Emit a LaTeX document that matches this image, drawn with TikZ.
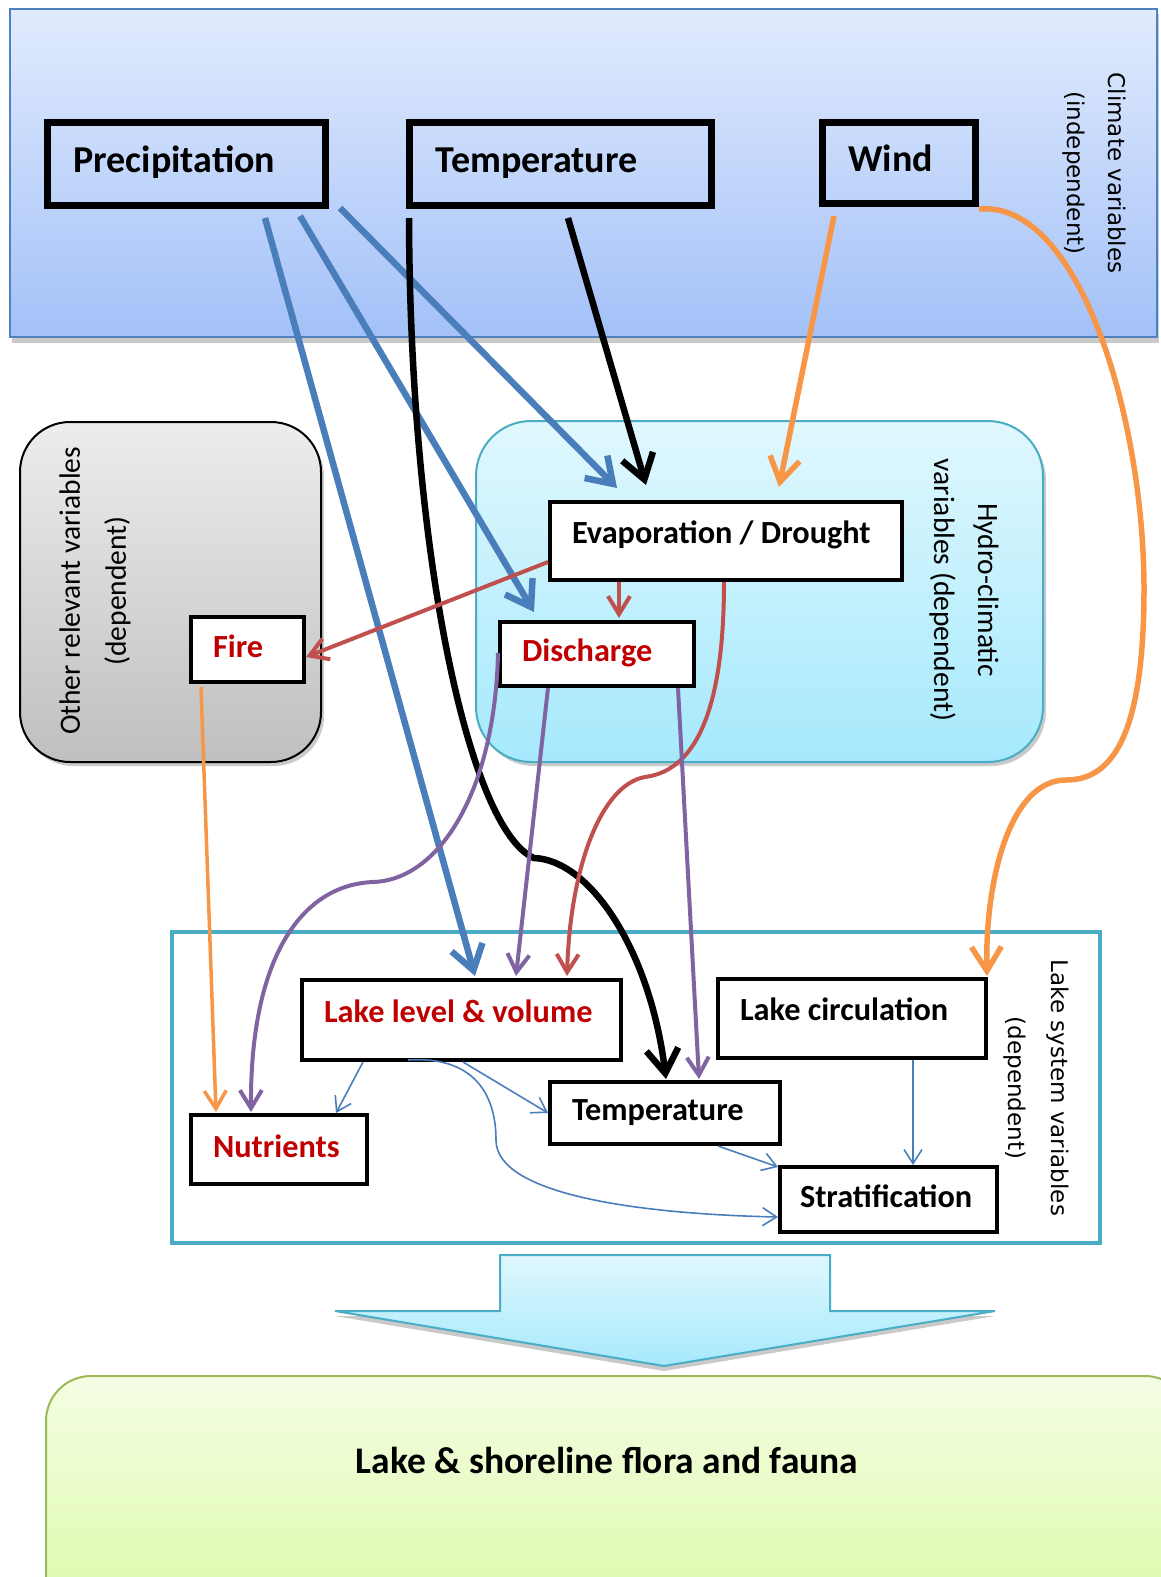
\documentclass[tikz,border=0pt]{standalone}
\usepackage{fontspec}
\setmainfont{Carlito}
\newfontfamily\dvs{DejaVu Sans}
\usetikzlibrary{arrows.meta,calc}
\definecolor{topA}{HTML}{E1EBFD}
\definecolor{topB}{HTML}{A3C1F8}
\definecolor{topLine}{HTML}{4F81BD}
\definecolor{hyA}{HTML}{E0F8FE}
\definecolor{hyB}{HTML}{A6E9FC}
\definecolor{hyLine}{HTML}{4BACC6}
\definecolor{grA}{HTML}{EDEDED}
\definecolor{grB}{HTML}{BFBFBF}
\definecolor{gnA}{HTML}{F4FDE4}
\definecolor{gnB}{HTML}{DAFAA2}
\definecolor{gnLine}{HTML}{9BBB59}
\definecolor{cBlue}{HTML}{4A7EBB}
\definecolor{cOrange}{HTML}{F79646}
\definecolor{cRed}{HTML}{C0504D}
\definecolor{cPurple}{HTML}{8064A2}
\definecolor{txtRed}{HTML}{C00000}
\newcommand\bxt[2]{\makebox[#1][l]{\strut#2}}
\newcommand\bxr[2]{\raisebox{22pt}{\makebox[#1][l]{\strut#2}}}
\begin{document}
\begin{tikzpicture}[x=1pt,y=-1pt,
  hb/.style={draw, line width=4pt, fill=white, anchor=north west, inner xsep=22pt, inner ysep=0pt,
    font=\fontsize{32.3}{38}\selectfont\bfseries},
  tb/.style={hb, line width=7pt, fill=none, inner xsep=26pt, font=\fontsize{38}{44}\selectfont\bfseries},
  shd/.style={fill=black!35, opacity=0.6},
  thk/.style={line width=6.5pt, -{Straight Barb[length=24pt,width=32pt]}},
  mdo/.style={line width=5.5pt, -{Straight Barb[length=24pt,width=30pt]}},
  med/.style={line width=4pt, -{Straight Barb[length=18pt,width=22pt]}},
  thn/.style={line width=1.6pt, -{Straight Barb[length=14pt,width=18pt]}},
  lab/.style={align=center}
]
\useasboundingbox (0,0) rectangle (1161,1577);
% containers
\fill[shd] (12,14) rectangle (1159,343);
\draw[topLine, line width=2pt, top color=topA, bottom color=topB] (10,9) rectangle (1157,337);
\fill[shd, rounded corners=55pt] (479,425) rectangle (1046,766);
\draw[hyLine, line width=2pt, top color=hyA, bottom color=hyB, rounded corners=55pt] (476,421) rectangle (1043,762);
\fill[shd, rounded corners=50pt] (23,426) rectangle (324,766);
\draw[black, line width=2pt, top color=grA, bottom color=grB, rounded corners=50pt] (20,422) rectangle (321,762);
\draw[hyLine, line width=4pt, fill=white] (172,932) rectangle (1100,1243);
\fill[shd] (500,1260) -- (830,1260) -- (830,1316) -- (995,1316) -- (664,1371) -- (335,1316) -- (500,1316) -- cycle;
\draw[hyLine, line width=2pt, top color=hyA, bottom color=hyB] (500,1255) -- (830,1255) -- (830,1311) -- (995,1311) -- (664,1366) -- (335,1311) -- (500,1311) -- cycle;
\fill[shd, rounded corners=45pt] (49,1380) rectangle (1193,1644);
\draw[gnLine, line width=2pt, top color=gnA, bottom color=gnB, rounded corners=45pt] (46,1376) rectangle (1190,1640);
% labels
\node[lab, rotate=-90, font=\dvs\fontsize{23}{41}\selectfont] (climlab) at (1094,173) {Climate variables\\(independent)};
\node[lab, rotate=-90, font=\fontsize{29.5}{44}\selectfont] (hylab) at (964,590) {Hydro-climatic\\variables (dependent)};
\node[lab, rotate=90, font=\fontsize{29.5}{46}\selectfont] (othlab) at (95,591) {Other relevant variables\\(dependent)};
\node[lab, rotate=-90, font=\dvs\fontsize{23}{43}\selectfont] (lklab) at (1036,1088) {Lake system variables\\(dependent)};
\node[font=\fontsize{37.5}{44}\selectfont\bfseries] (flora) at (607,1460) {Lake \& shoreline flora and fauna};
% boxes
\node[tb, minimum height=83pt] (prec) at (44,119) {\bxt{226pt}{Precipitation}};
\node[tb, minimum height=83pt] (tempT) at (406,119) {\bxt{250pt}{Temperature}};
\node[tb, minimum height=81pt] (wind) at (819,119) {\bxt{101pt}{Wind}};
\node[hb, minimum height=78pt] (evap) at (548,500) {\bxr{308pt}{Evaporation / Drought}};
\node[hb, minimum height=64pt, text=txtRed] (disch) at (498,620) {\bxt{150pt}{Discharge}};
\node[hb, minimum height=65pt, text=txtRed] (fire) at (189,615) {\bxt{69pt}{Fire}};
\node[hb, minimum height=80pt, text=txtRed] (level) at (300,978) {\bxr{275pt}{Lake level \& volume}};
\node[hb, minimum height=79pt] (circ) at (716,977) {\bxr{224pt}{Lake circulation}};
\node[hb, minimum height=69pt, text=txtRed] (nutr) at (189,1113) {\bxt{132pt}{Nutrients}};
\node[hb, minimum height=62pt] (tempL) at (548,1080) {\bxt{186pt}{Temperature}};
\node[hb, minimum height=65pt, inner xsep=20pt] (strat) at (778,1165) {\bxt{177pt}{Stratification}};
% connectors
\draw[thk, cBlue] ([shift={(221,9)}]prec.south west) -- ([shift={(175,-2)}]level.north west);
\draw[thk, cBlue] ([shift={(256,7)}]prec.south west) -- ([shift={(36,-8)}]disch.north west);
\draw[thk, cBlue] ([shift={(11,-1)}]prec.south east) -- ([shift={(69,-12)}]evap.north west);
\draw[thk, black] ([shift={(162,9)}]tempT.south west) -- ([shift={(98,-15)}]evap.north west);
\draw[thk, black] ([shift={(3,9)}]tempT.south west) .. controls (410,560) and (470,830) .. (534,858)
   .. controls (590,860) and (650,950) .. ([shift={(118,-1)}]tempL.north west);
\draw[mdo, cOrange] ([shift={(15,9)}]wind.south west) -- ([shift={(231,-13)}]evap.north west);
\draw[mdo, cOrange] ([shift={(0,2)}]wind.south east) .. controls (1080,200) and (1144,420) .. (1144,589)
   .. controls (1144,740) and (1110,780) .. (1066,780)
   .. controls (1010,780) and (985,880) .. ([shift={(-1,-1)}]circ.north east);
\draw[med, cRed] ([shift={(0,-20)}]evap.south west) -- ([shift={(0,-27)}]fire.south east);
\draw[med, cRed] ([shift={(71,0)}]evap.south west) -- ([shift={(121,-2)}]disch.north west);
\draw[med, cRed] ([shift={(176,0)}]evap.south west) .. controls (724,700) and (700,770) .. (645,777)
   .. controls (600,785) and (570,870) .. ([shift={(267,-2)}]level.north west);
\draw[med, cPurple] ([shift={(0,33)}]disch.north west) .. controls (495,790) and (440,880) .. (373,882)
   .. controls (300,885) and (250,960) .. ([shift={(62,-1)}]nutr.north west);
\draw[med, cPurple] ([shift={(50,0)}]disch.south west) -- ([shift={(216,-2)}]level.north west);
\draw[med, cPurple] ([shift={(180,0)}]disch.south west) -- ([shift={(151,-1)}]tempL.north west);
\draw[med, cOrange, line width=3.5pt] ([shift={(12,3)}]fire.south west) -- ([shift={(27,-1)}]nutr.north west);
\draw[thn, cBlue] ([shift={(63,0)}]level.south west) -- ([shift={(147,0)}]nutr.north west);
\draw[thn, cBlue] ([shift={(163,0)}]level.south west) -- ([shift={(0,33)}]tempL.north west);
\draw[thn, cBlue] ([shift={(108,-2)}]level.south west) .. controls (470,1056) and (496,1090) .. (496,1140)
   .. controls (496,1195) and (640,1214) .. ([shift={(0,52)}]strat.north west);
\draw[thn, cBlue] ([shift={(170,0)}]tempL.south west) -- ([shift={(0,2)}]strat.north west);
\draw[thn, cBlue] ([shift={(197,0)}]circ.south west) -- ([shift={(135,0)}]strat.north west);
\end{tikzpicture}
\end{document}
